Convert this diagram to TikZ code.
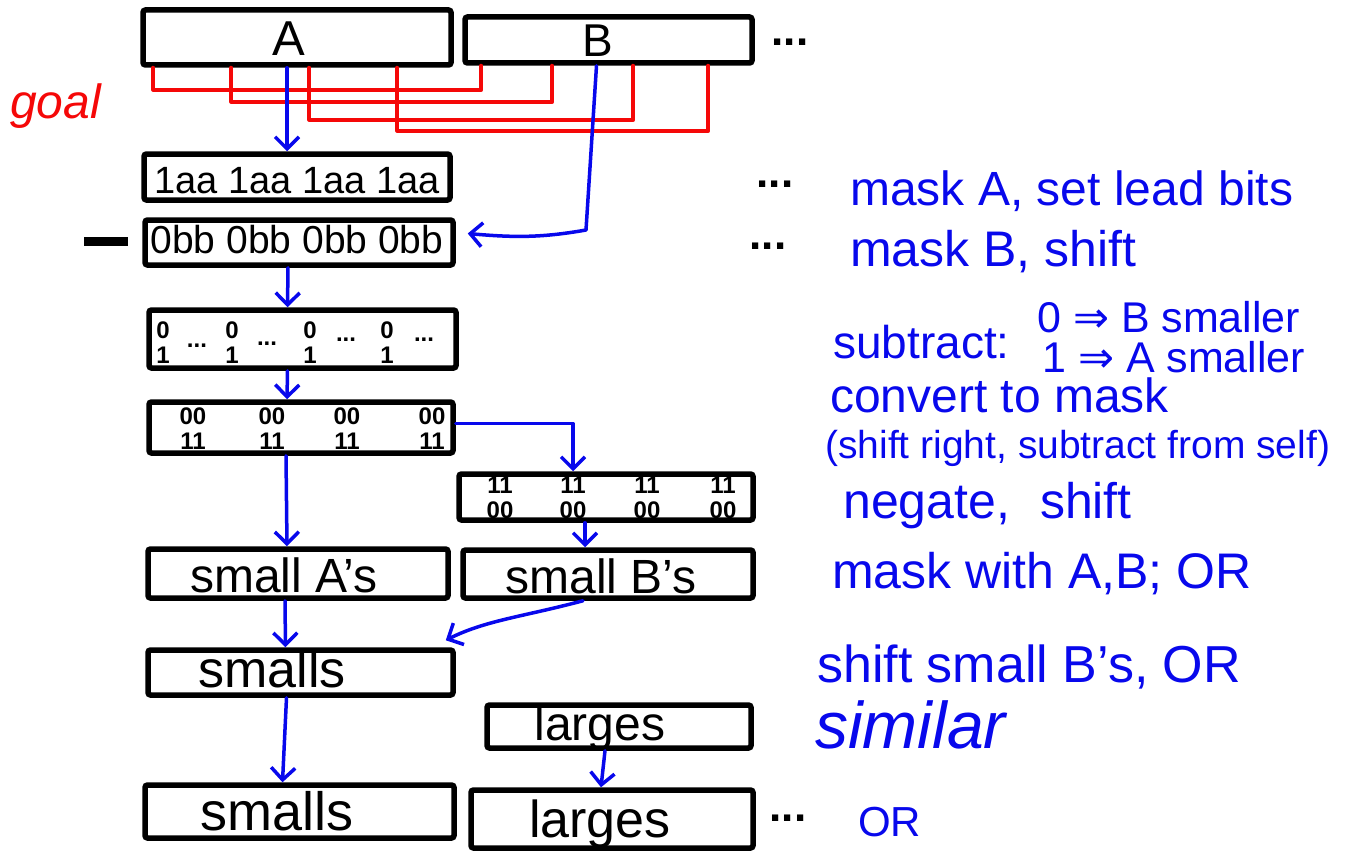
\documentclass[tikz,border=0pt]{standalone}
\usepackage{fontspec}
\setmainfont{Liberation Sans}
\newfontfamily\symfont{DejaVu Sans}
\usetikzlibrary{arrows.meta}
\newcommand\fsz[1]{\fontsize{#1}{#1}\selectfont}
\definecolor{inkblue}{RGB}{8,8,236}
\definecolor{inkred}{RGB}{245,8,8}

\begin{document}
\begin{tikzpicture}[x=1pt,y=-1pt,
  box/.style={draw=black, line width=5.5pt, rounded corners=2.5pt, inner sep=0pt},
  lbl/.style={anchor=base, inner sep=0pt, text=black},
  bit/.style={inner sep=0pt, text=black, font=\fsz{24}\bfseries},
  dots/.style={anchor=base, inner sep=0pt, text=black, font=\fsz{44}\bfseries},
  note/.style={anchor=base west, inner sep=0pt, text=inkblue},
  flow/.style={draw=inkblue, line width=3.5pt, line cap=round, line join=round,
    -{Straight Barb[length=12pt,width=24pt,line width=3.5pt]}},
  goalline/.style={draw=inkred, line width=4pt, line join=round, line cap=round}
]
\useasboundingbox (0,0) rectangle (1361,859);

% ---- words A and B ----
\node[box, minimum width=308, minimum height=55] (A) at (297,37.5) {};
\node[box, minimum width=287, minimum height=46] (B) at (608.5,40) {};
\node[lbl, font=\fsz{49}] (Atxt) at (289,56) {A};
\node[lbl, font=\fsz{46}] (Btxt) at (598,57) {B};
\node[dots] (Bdots) at (790,46) {...};

% ---- goal: interleaving of the fields ----
\node[anchor=base west, inner sep=0pt, text=inkred, font=\fsz{48}\itshape] (goal) at (10,118) {goal};
\draw[goalline] ([xshift=13pt]A.south west) -- ++(0,22) -| ([xshift=19pt]B.south west);
\draw[goalline] ([xshift=91pt]A.south west) -- ++(0,34) -| ([xshift=90pt]B.south west);
\draw[goalline] ([xshift=169pt]A.south west) -- ++(0,52) -| ([xshift=171pt]B.south west);
\draw[goalline] ([xshift=257pt]A.south west) -- ++(0,63) -| ([xshift=246pt]B.south west);

% ---- masked operands ----
\node[box, minimum width=306, minimum height=46] (one) at (297,177) {};
\node[lbl, font=\fsz{38}] (onetxt) at (297,193) {1aa 1aa 1aa 1aa};
\node[box, minimum width=308, minimum height=45] (zero) at (299,242.5) {};
\node[lbl, font=\fsz{39}] (zerotxt) at (297,253) {0bb 0bb 0bb 0bb};
\node[fill=black, minimum width=44, minimum height=9, inner sep=0pt] (minus) at (106,241) {};
\node[dots] (onedots) at (775,187) {...};
\node[dots] (zerodots) at (768,249) {...};

% ---- difference ----
\node[box, minimum width=307, minimum height=58] (diff) at (302.5,339) {};
\foreach \x [count=\i] in {163,232,310,387} {
  \node[bit] (dz\i) at (\x,330) {0};
  \node[bit] (do\i) at (\x,355) {1};
}
\foreach \x/\y [count=\i] in {197/347,267/345,346/341,424/341}
  \node[bit, anchor=base] (dd\i) at (\x,\y) {...};

% ---- mask from lead bits ----
\node[box, minimum width=304, minimum height=51] (msk) at (301,427.5) {};
\foreach \x [count=\i] in {193,272,347,432} {
  \node[bit] (mz\i) at (\x,416) {00};
  \node[bit] (mo\i) at (\x,441) {11};
}

% ---- negated mask ----
\node[box, minimum width=294, minimum height=46] (neg) at (606,497) {};
\foreach \x [count=\i] in {500,573,647,723} {
  \node[bit] (no\i) at (\x,485) {11};
  \node[bit] (nz\i) at (\x,510) {00};
}

% ---- selected fields ----
\node[box, minimum width=300, minimum height=49] (sa) at (298,573.5) {};
\node[lbl, font=\fsz{48}] (satxt) at (284,592) {small A's};
\node[box, minimum width=290, minimum height=48] (sb) at (608,574) {};
\node[lbl, font=\fsz{48}] (sbtxt) at (601,593) {small B's};
\node[box, minimum width=305, minimum height=45] (sm1) at (300.5,672.5) {};
\node[lbl, font=\fsz{52}] (sm1txt) at (272,687) {smalls};
\node[box, minimum width=264, minimum height=43] (lg1) at (619,726.5) {};
\node[lbl, font=\fsz{48}] (lg1txt) at (600,740) {larges};
\node[box, minimum width=309, minimum height=53] (sm2) at (299.5,811.5) {};
\node[lbl, font=\fsz{54}] (sm2txt) at (277,830) {smalls};
\node[box, minimum width=282, minimum height=58] (lg2) at (612,819) {};
\node[lbl, font=\fsz{52}] (lg2txt) at (600,837) {larges};
\node[dots] (lgdots) at (788,821) {...};

% ---- data flow ----
\coordinate (bturn) at (586,230);
\draw[flow] ([xshift=-10pt]A.south) -- ([xshift=-10pt]one.north);
\draw[flow, -] ([xshift=-12pt]B.south) -- (bturn);
\draw[flow] (bturn) .. controls +(-45,8) and +(45,4) .. ([xshift=12pt,yshift=9pt]zero.east);
\draw[flow] ([xshift=-11pt]zero.south) -- ([xshift=-15pt]diff.north);
\draw[flow] ([xshift=-15pt]diff.south) -- ([xshift=-14pt]msk.north);
\draw[flow] ([xshift=-15pt]msk.south) -- ([xshift=-11pt]sa.north);
\draw[flow] ([yshift=4pt]msk.east) -| ([xshift=-33pt]neg.north);
\draw[flow] ([xshift=-21pt]neg.south) -- ([xshift=-23pt]sb.north);
\draw[flow] ([xshift=-13pt]sa.south) -- ([xshift=-15pt]sm1.north);
\draw[flow] ([xshift=-25pt]sb.south) .. controls +(-60,16) and +(40,-20) .. ([xshift=-10pt,yshift=7pt]sm1.north east);
\draw[flow] ([xshift=-14pt]sm1.south) -- ([xshift=-17pt]sm2.north);
\draw[flow] ([xshift=-14pt]lg1.south) -- ([xshift=-11pt]lg2.north);

% ---- notes ----
\node[note, font=\fsz{48}] (n1) at (850,205) {mask A, set lead bits};
\node[note, font=\fsz{50}] (n2) at (850,266) {mask B, shift};
\node[note, font=\fsz{46}] (n3) at (833,358) {subtract:};
\node[note, font=\fsz{43}] (n3a) at (1037,332) {0 {\symfont ⇒} B smaller};
\node[note, font=\fsz{43}] (n3b) at (1042,372) {1 {\symfont ⇒} A smaller};
\node[note, font=\fsz{48}] (n4) at (830,412) {convert to mask};
\node[note, font=\fsz{39}] (n5) at (825,458) {(shift right, subtract from self)};
\node[note, font=\fsz{50}] (n6) at (843,518) {negate,\hspace{30pt}shift};
\node[note, font=\fsz{50}] (n7) at (832,588) {mask with A,B; OR};
\node[note, font=\fsz{52}] (n8) at (817,682) {shift small B's, OR};
\node[note, font=\fsz{66}\itshape] (n9) at (815,748) {similar};
\node[note, font=\fsz{42}] (n10) at (858,836) {OR};
\end{tikzpicture}
\end{document}
